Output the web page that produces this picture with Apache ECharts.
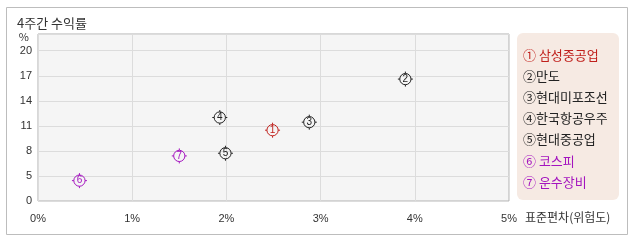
<!DOCTYPE html>
<html>
<head>
<meta charset="utf-8">
<script src="https://cdn.jsdelivr.net/npm/echarts@6/dist/echarts.min.js"></script>
<style>html,body{margin:0;padding:0;background:#fff;}#c{width:638px;height:242px;}</style>
</head>
<body>
<div id="c"></div>
<script>
// ---- data ----
const names = ['삼성중공업', '만도', '현대미포조선', '한국항공우주', '현대중공업', '코스피', '운수장비'];
const marks = ['①', '②', '③', '④', '⑤', '⑥', '⑦'];
const stdDev = [2.49, 3.90, 2.88, 1.93, 1.99, 0.44, 1.50];      // x, %
const returns = [10.48, 16.6, 11.44, 12.0, 7.72, 4.44, 7.4];    // y, %
const colors = ['#c0201c', '#222222', '#222222', '#222222', '#222222', '#a414bf', '#a414bf'];
const spaced = [true, false, false, false, false, true, true];
const xTickLabels = ['0%', '1%', '2%', '3%', '4%', '5%'];
const yTickLabels = ['0', '5', '8', '11', '14', '17', '20'];
const yBase = 2; // axis bottom corresponds to this value (label shown as "0")

const FONT = '"Noto Sans CJK KR", "Liberation Sans", sans-serif';
const markerPath = 'path://M8,2A6,6,0,1,1,7.99,2Z M8,0L8,2 M8,14L8,16 M0,8L2,8 M14,8L16,8';

const labels = names.map((n, i) => marks[i] + (spaced[i] ? ' ' : '') + n);

const series = names.map((n, i) => ({
  type: 'scatter',
  name: labels[i],
  data: [[stdDev[i], returns[i] - yBase]],
  symbol: markerPath,
  symbolSize: 15,
  itemStyle: { color: 'rgba(0,0,0,0)', borderColor: colors[i], borderWidth: 1, opacity: 1 },
  label: {
    show: true, position: 'inside', formatter: String(i + 1),
    fontSize: 10, color: colors[i], fontFamily: '"Liberation Sans", sans-serif'
  },
  emphasis: { disabled: true },
  z: 5
}));

const chart = echarts.init(document.getElementById('c'), null, { renderer: 'canvas' });
chart.setOption({
  animation: false,
  textStyle: { fontFamily: FONT },
  title: {
    text: '4주간 수익률', left: 12, top: 12,
    textStyle: { fontSize: 13, fontWeight: 'normal', color: '#333', fontFamily: FONT }
  },
  graphic: [
    { type: 'rect', silent: true, z: 0, shape: { x: 6.5, y: 7.5, width: 621, height: 227 },
      style: { fill: 'none', stroke: '#bdbdbd', lineWidth: 1 } },
    { type: 'rect', silent: true, z: 0, shape: { x: 517, y: 33, width: 102, height: 167, r: 6 },
      style: { fill: '#f6eae3' } }
  ],
  legend: {
    orient: 'vertical', left: 518, top: 47.7, padding: 0,
    itemWidth: 0, itemHeight: 14, itemGap: 7.7, icon: 'none',
    selectedMode: false, z: 10,
    data: labels.map((l, i) => ({ name: l, textStyle: { color: colors[i] } })),
    textStyle: { fontSize: 13, fontFamily: FONT }
  },
  grid: {
    left: 38, right: 129, top: 34, bottom: 41,
    show: true, backgroundColor: '#f5f5f5', borderColor: '#b0b0b0', borderWidth: 1
  },
  xAxis: {
    type: 'value', min: 0, max: 5, interval: 1,
    name: '표준편차(위험도)', nameLocation: 'end', nameGap: 16,
    nameTextStyle: { fontSize: 12, color: '#333', verticalAlign: 'top', lineHeight: 33, fontFamily: FONT },
    axisLine: { show: false }, axisTick: { show: false },
    axisLabel: { margin: 12, fontSize: 11, color: '#333', fontFamily: '"Liberation Sans", sans-serif',
      formatter: v => xTickLabels[Math.round(v)] },
    splitLine: { lineStyle: { color: '#dcdcdc' } }
  },
  yAxis: {
    type: 'value', min: 0, max: 20, interval: 3,
    name: '%', nameLocation: 'end', nameGap: -3,
    nameTextStyle: { fontSize: 11, color: '#333', align: 'right', verticalAlign: 'middle', padding: [0, 9, 0, 0] },
    axisLine: { show: false }, axisTick: { show: false },
    axisLabel: { margin: 6, fontSize: 11, color: '#333', fontFamily: '"Liberation Sans", sans-serif',
      formatter: v => { const k = Math.round(v / 3); return (Math.abs(v - k * 3) < 1e-6 && yTickLabels[k] !== undefined) ? yTickLabels[k] : ''; } },
    splitLine: { lineStyle: { color: '#dcdcdc' } }
  },
  series: series
});
</script>
</body>
</html>
